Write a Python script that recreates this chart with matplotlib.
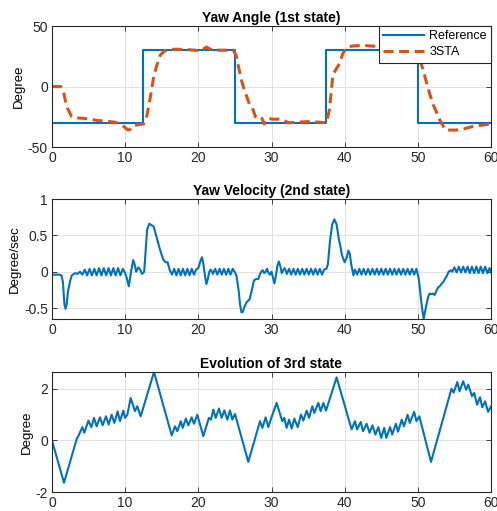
import matplotlib
matplotlib.use("Agg")
import matplotlib.pyplot as plt

plt.rcParams['font.family'] = ['Liberation Sans', 'DejaVu Sans']

# ---------------- data ----------------
# Panel 1: reference (step) and 3STA response
ref_t = [0, 12.5, 12.5, 25, 25, 37.5, 37.5, 50, 50, 60]
ref_v = [-30, -30, 30, 30, -30, -30, 30, 30, -30, -30]

sta_t = [0, 0.6, 1.2, 1.6, 2.0, 2.7, 3.5, 4.3, 5.2, 6.1, 7.0, 7.9, 8.6, 9.3, 9.9, 10.4, 10.8, 11.1,
         11.8, 12.5, 12.9, 13.2, 13.6, 13.9, 14.3, 14.8, 15.4, 16.1, 17.0, 18.4, 19.5, 20.2, 20.7,
         21.1, 21.6, 22.0, 23.0, 24.0, 24.8, 25.2, 25.5, 25.9, 26.3, 26.6, 27.0, 27.5, 27.8, 28.2,
         28.6, 29.0, 29.3, 29.7, 30.1, 31.0, 31.6, 32.3, 33.5, 35.0, 36.5, 37.5, 37.9, 38.4, 38.9,
         39.3, 39.8, 40.2, 40.6, 41.2, 42.4, 43.5, 44.7, 46.0, 47.5, 48.7, 50.0, 50.3, 50.8, 51.2,
         51.6, 52.1, 52.6, 53.0, 53.4, 53.8, 54.5, 55.2, 56.3, 57.5, 58.7, 60.0]
sta_v = [0, 0, 0, -5, -16.7, -25, -26, -26.3, -27, -28, -28.5, -29, -29.5, -31, -33.5, -36, -35,
         -32.6, -31.5, -31, -26, -17, -3, 8, 17, 26, 29.5, 30.5, 30.8, 30.5, 30, 29.5, 31, 32.6,
         31, 30, 30, 30, 30, 25, 16, 5, -3, -8, -15, -19.4, -25, -25.5, -25, -31, -27, -26.5,
         -27, -27, -27.5, -30, -29.5, -29, -29.5, -30, -20, 10, 15, 19, 28, 31, 33, 33.5, 34,
         33.5, 33, 32, 31.5, 31, 30, 22, 12, 3, -5.6, -15, -22, -27.7, -32, -36, -36, -36, -35,
         -33, -32, -31]

# Panel 2: yaw velocity
vel_t = [0, 0.5, 1.0, 1.3, 1.5, 1.7, 1.85, 2.0, 2.2, 2.5, 2.7, 3.0, 3.2,
         3.5, 3.83, 4.15, 4.48, 4.8, 5.13, 5.45, 5.78, 6.1, 6.43, 6.75, 7.08, 7.4, 7.73, 8.05,
         8.38, 8.7, 9.03, 9.35, 9.68, 10.0,
         10.2, 10.5, 10.8, 11.1, 11.3, 11.5, 11.8, 12.1, 12.3, 12.6, 12.8, 13.0, 13.3, 13.6,
         13.9, 14.2, 14.5, 14.8, 15.2, 15.5, 15.8, 16.1,
         16.4, 16.7, 17.0, 17.3, 17.6, 17.9, 18.2, 18.5, 18.8, 19.1, 19.4, 19.7,
         20.0, 20.3, 20.5, 20.7, 20.9, 21.1, 21.3, 21.5, 21.7,
         22.0, 22.3, 22.6, 22.9, 23.2, 23.5, 23.8, 24.1, 24.4, 24.7, 25.0,
         25.2, 25.5, 25.7, 25.9, 26.1, 26.3, 26.6, 26.8, 27.0, 27.3, 27.6, 27.9, 28.2, 28.4,
         28.6, 28.8, 29.0, 29.2, 29.4, 29.6, 29.8, 30.0, 30.2, 30.4, 30.6, 30.8, 31.0, 31.2,
         31.4, 31.6, 31.8,
         32.1, 32.4, 32.7, 33.0, 33.3, 33.6, 33.9, 34.2, 34.5, 34.8, 35.1, 35.4, 35.7, 36.0,
         36.3, 36.6, 36.9, 37.2,
         37.5, 37.7, 38.0, 38.3, 38.6, 38.9, 39.2, 39.4, 39.6, 39.8, 40.0, 40.3, 40.5, 40.7,
         40.9, 41.2, 41.4,
         41.7, 42.0, 42.3, 42.6, 42.9, 43.2, 43.5, 43.8, 44.1, 44.4, 44.7, 45.0, 45.3, 45.6,
         45.9, 46.2, 46.5, 46.8, 47.1, 47.4, 47.7, 48.0, 48.3, 48.6, 48.9, 49.2, 49.5, 49.8,
         50.1, 50.3, 50.5, 50.8, 51.1, 51.4, 51.6, 51.9, 52.1, 52.3, 52.6, 52.8, 53.0, 53.2,
         53.5, 53.7, 54.0, 54.2, 54.5, 54.7,
         55.0, 55.3, 55.6, 55.9, 56.2, 56.5, 56.8, 57.1, 57.4, 57.7, 58.0, 58.3, 58.6, 58.9,
         59.2, 59.5, 59.8, 60.0]
vel_v = [-0.04, -0.04, -0.04, -0.05, -0.15, -0.45, -0.51, -0.45, -0.26, -0.12, -0.05, -0.03, -0.02,
         -0.03, 0.0, -0.04, 0.03, -0.05, 0.04, -0.05, 0.04, -0.05, 0.05, -0.05, 0.05, -0.05, 0.05,
         -0.05, 0.05, -0.05, 0.05, -0.05, 0.04, -0.02,
         -0.08, -0.2, 0.0, 0.16, 0.1, 0.0, 0.06, 0.02, -0.03, 0.0, 0.3, 0.58, 0.66, 0.64,
         0.62, 0.51, 0.4, 0.29, 0.17, 0.13, 0.13, 0.02,
         -0.04, 0.04, -0.05, 0.04, -0.05, 0.04, -0.05, 0.04, -0.05, 0.04, -0.04, 0.03,
         0.05, 0.15, 0.2, 0.1, -0.05, -0.17, -0.1, 0.0, 0.03,
         -0.03, 0.04, -0.04, 0.04, -0.04, 0.04, -0.04, 0.04, -0.04, 0.04, -0.01,
         -0.05, -0.25, -0.45, -0.56, -0.55, -0.48, -0.42, -0.4, -0.38, -0.26, -0.12, -0.1, -0.1,
         -0.04, 0.0, 0.02, -0.02, 0.0, 0.04, -0.02, -0.04, 0.0, -0.08, -0.16, -0.06, 0.08, 0.14,
         0.08, -0.02, 0.02, 0.05,
         -0.03, 0.04, -0.04, 0.04, -0.04, 0.04, -0.04, 0.04, -0.04, 0.04, -0.04, 0.04, -0.04,
         0.04, -0.04, 0.04, -0.04, 0.03,
         0.04, 0.1, 0.43, 0.65, 0.72, 0.65, 0.45, 0.36, 0.24, 0.18, 0.13, 0.2, 0.29, 0.25,
         0.1, -0.05, 0.03,
         -0.04, 0.04, -0.04, 0.04, -0.04, 0.04, -0.04, 0.04, -0.04, 0.04, -0.04, 0.04, -0.04,
         0.04, -0.04, 0.04, -0.04, 0.04, -0.04, 0.04, -0.04, 0.04, -0.04, 0.04, -0.04, 0.04,
         -0.04, 0.04,
         -0.08, -0.25, -0.44, -0.65, -0.49, -0.35, -0.3, -0.31, -0.3, -0.32, -0.25, -0.21, -0.2,
         -0.17, -0.14, -0.1, -0.05, 0.0, 0.02, 0.0,
         0.06, -0.01, 0.07, -0.01, 0.07, -0.01, 0.07, -0.02, 0.07, -0.02, 0.07, -0.02, 0.07,
         -0.02, 0.07, -0.02, 0.05, -0.01]

# Panel 3: third state
st3_t = [0, 1.64, 3.4, 3.6, 4.15, 4.42, 4.97, 5.38, 5.74, 6.1, 6.56, 6.92, 7.38, 7.74, 8.15,
         8.52, 8.97, 9.29, 9.75, 9.98, 10.3, 10.75, 11.34, 11.66, 12.12, 13.94, 16.36, 16.81,
         17.13, 17.6, 17.86, 18.3, 18.63, 19.09, 19.4, 19.86, 20.68, 21.45, 21.73, 22.05, 22.37,
         22.82, 23.19, 23.55, 23.96, 24.33, 24.65, 25.01, 26.83, 28.43, 28.75, 29.2, 29.57,
         30.0, 30.7, 31.47, 31.75, 32.07, 32.4, 32.76, 33.12, 33.58, 34.04, 34.35, 34.81,
         35.13, 35.58, 35.86, 36.4, 36.72, 37.09, 37.45, 38.9, 40.95, 41.4, 41.7, 42.2, 42.5,
         43.0, 43.4, 43.8, 44.2, 44.6, 45.0, 45.4, 45.7, 46.2, 46.5, 47.0, 47.3, 47.8, 48.1,
         48.6, 48.9, 49.5, 49.8, 50.2, 51.8, 54.6, 54.9, 55.4, 55.7, 56.2, 56.6, 56.9, 57.4,
         57.7, 58.1, 58.5, 58.8, 59.2, 59.6, 60.0]
st3_v = [0, -1.64, 0.08, 0.17, 0.52, 0.3, 0.77, 0.52, 0.88, 0.55, 0.9, 0.59, 0.94, 0.62, 1.0,
         0.68, 1.13, 0.75, 1.16, 0.88, 1.0, 1.65, 1.14, 1.33, 0.94, 2.66, 0.2, 0.55, 0.36,
         0.75, 0.49, 0.85, 0.59, 0.9, 0.65, 1.0, 0.17, 0.88, 0.81, 1.2, 0.88, 1.24, 0.88,
         1.17, 0.81, 1.17, 0.81, 1.03, -0.83, 0.75, 0.49, 0.9, 0.52, 0.9, 1.46, 0.75, 0.88,
         0.49, 0.81, 0.46, 0.85, 0.52, 1.01, 0.77, 1.16, 0.88, 1.33, 1.07, 1.46, 1.14, 1.46,
         1.16, 2.45, 0.43, 0.75, 0.43, 0.72, 0.36, 0.65, 0.3, 0.59, 0.23, 0.52, 0.1, 0.49,
         0.1, 0.52, 0.23, 0.65, 0.34, 0.81, 0.55, 1.0, 0.68, 1.11, 0.75, 0.94, -0.83, 2.01,
         1.86, 2.27, 1.91, 2.3, 1.97, 2.17, 1.72, 1.85, 1.39, 1.68, 1.29, 1.52, 1.11, 1.32]

titles = ["Yaw Angle (1st state)", "Yaw Velocity (2nd state)", "Evolution of 3rd state"]
ylabels = ["Degree", "Degree/sec", "Degree"]
xticks = [0, 10, 20, 30, 40, 50, 60]
yticks = [[-50, 0, 50], [-0.5, 0, 0.5, 1], [-2, 0, 2]]
ylims = [(-50, 50), (-0.65, 1), (-2, 2.66)]

BLUE = "#0072BD"
ORANGE = "#D95319"

# ---------------- figure ----------------
fig = plt.figure(figsize=(4.97, 5.11), dpi=100)
W, H = 497, 511
left, right = 52, 491
tops = [26, 199, 372]
bots = [147, 319, 492]
axes = []
for top, bot in zip(tops, bots):
    ax = fig.add_axes([left / W, 1 - bot / H, (right - left) / W, (bot - top) / H])
    axes.append(ax)

ax1, ax2, ax3 = axes
ax1.plot(ref_t, ref_v, color=BLUE, lw=1.5, label="Reference")
ax1.plot(sta_t, sta_v, color=ORANGE, lw=2.2, dashes=(3.3, 1.8), label="3STA")
leg = ax1.legend(loc="upper right", borderaxespad=0, fontsize=9, handlelength=3.3,
                 fancybox=False, framealpha=1, edgecolor="#262626", borderpad=0.35,
                 labelspacing=0.3, handletextpad=0.4)
leg.get_frame().set_linewidth(0.8)

ax2.plot(vel_t, vel_v, color=BLUE, lw=1.5)
ax3.plot(st3_t, st3_v, color=BLUE, lw=1.5)

for ax, ttl, yl, yt, ylim in zip(axes, titles, ylabels, yticks, ylims):
    ax.set_xlim(0, 60)
    ax.set_ylim(*ylim)
    ax.set_xticks(xticks)
    ax.set_yticks(yt)
    ax.set_yticklabels([f"{v:g}" for v in yt])
    ax.set_title(ttl, fontsize=10, fontweight="bold", pad=3)
    ax.set_ylabel(yl, fontsize=9.5, labelpad=2)
    ax.grid(True, color="#dcdcdc", lw=0.6)
    ax.set_axisbelow(True)
    ax.tick_params(direction="in", length=3.5, width=0.6, labelsize=10, colors="#262626",
                   top=True, right=True, pad=3)
    for sp in ax.spines.values():
        sp.set_color("#262626")
        sp.set_linewidth(0.8)

fig.savefig("out.png", dpi=100, facecolor="white")
